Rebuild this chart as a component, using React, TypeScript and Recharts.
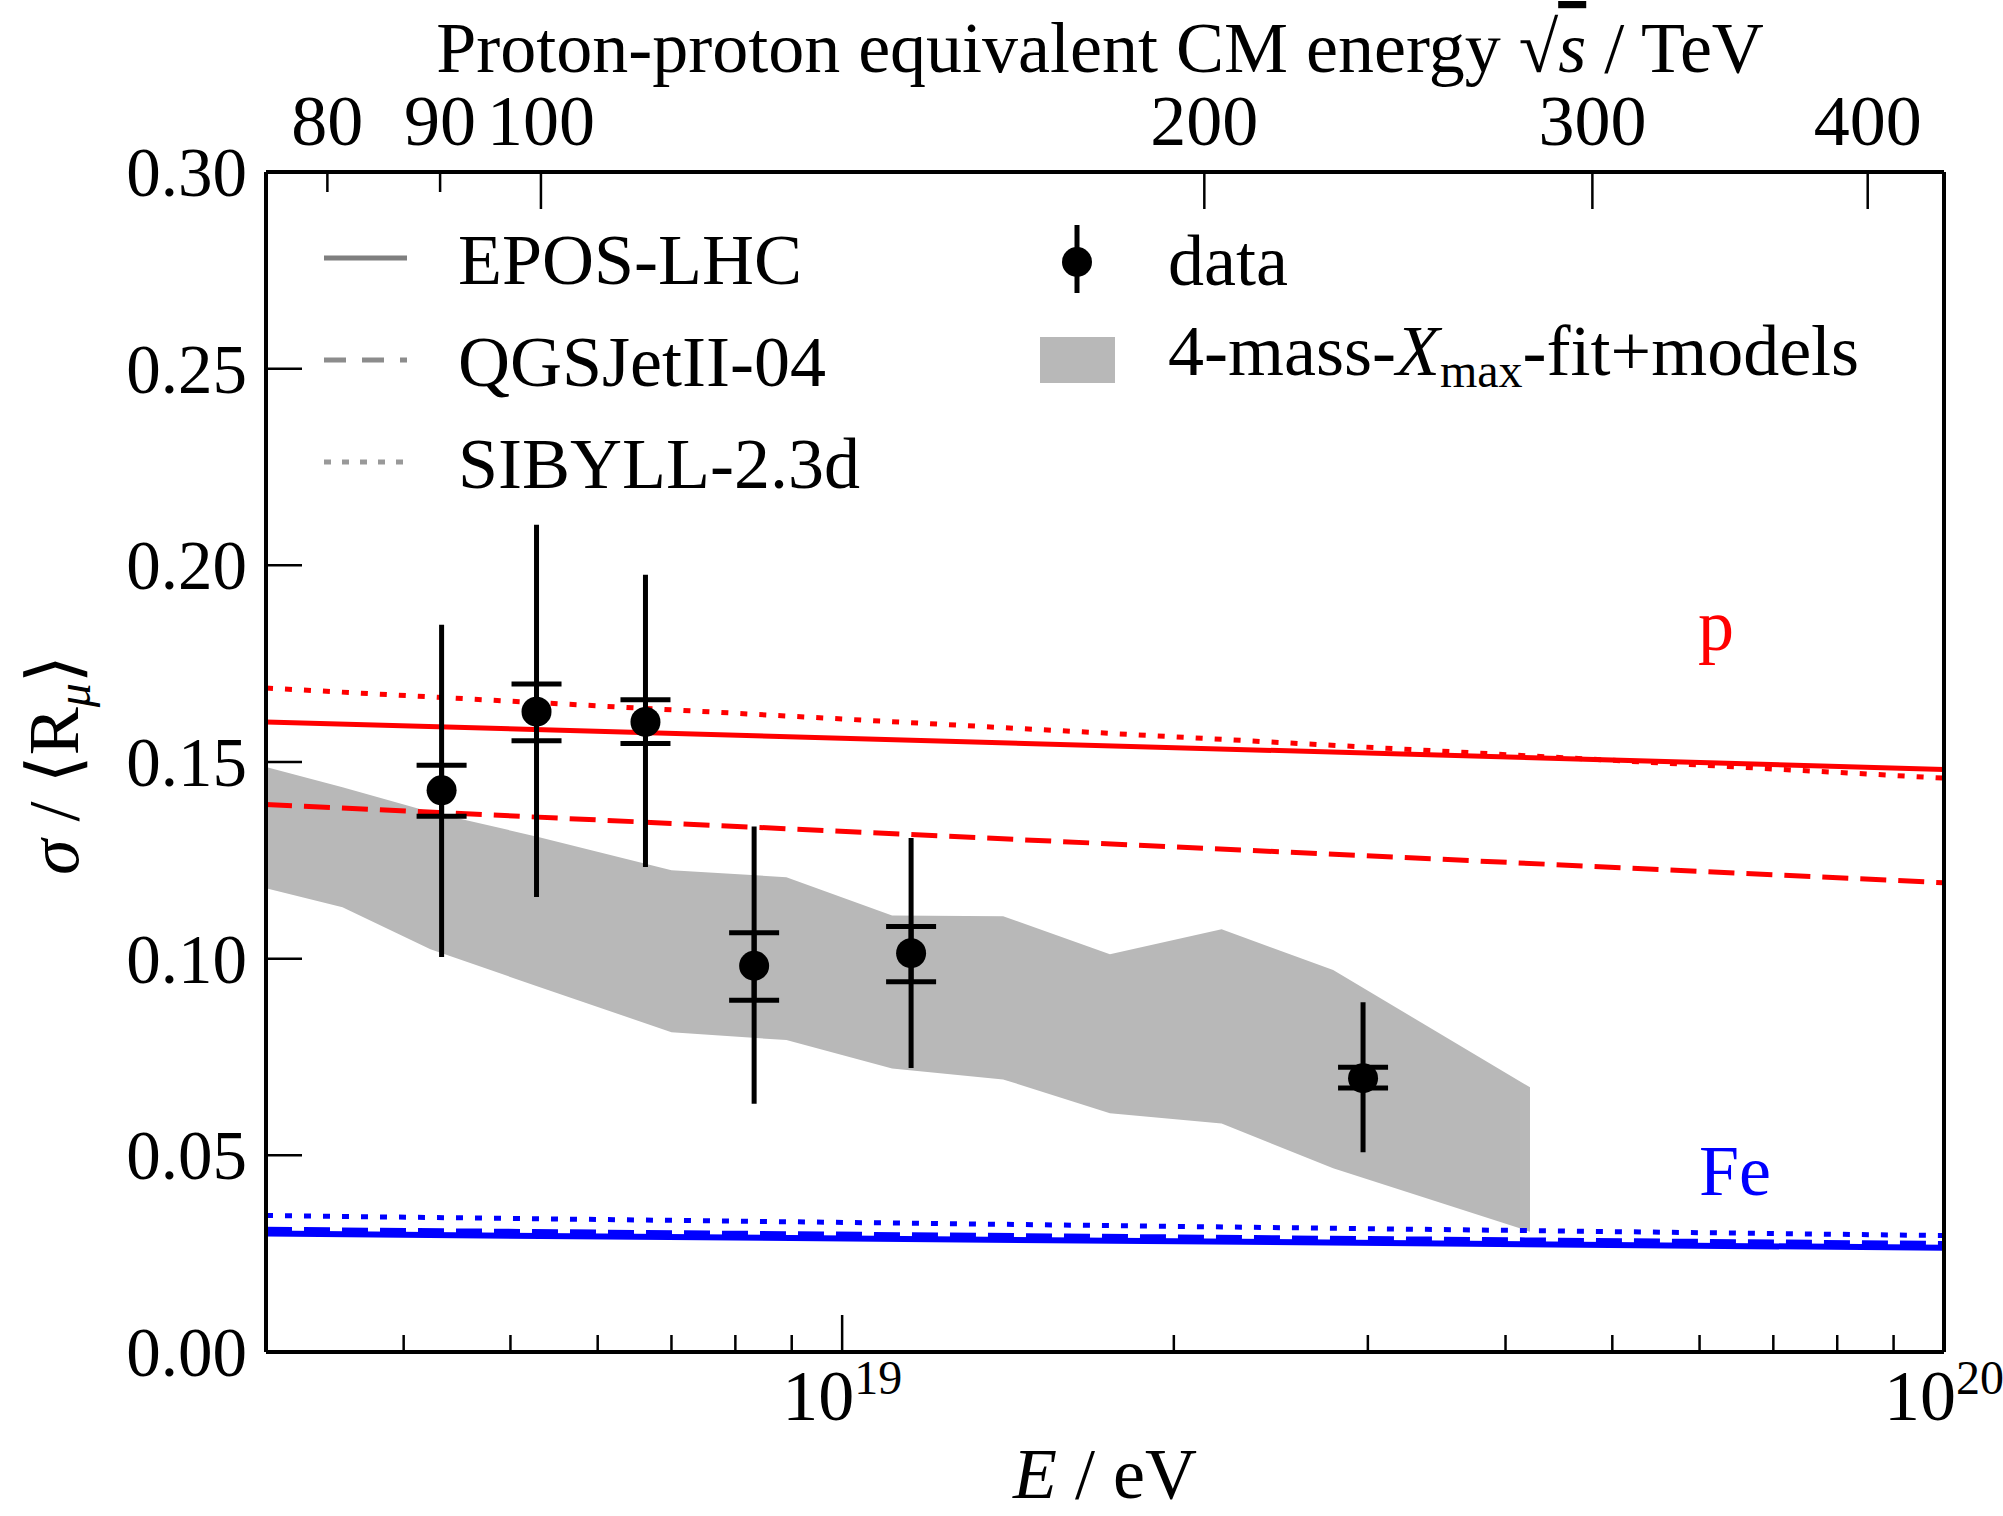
import React from 'react';
import { ComposedChart, Area, Line, Scatter, ErrorBar, XAxis, YAxis } from 'recharts';

const FONT = '"Liberation Serif", "DejaVu Serif", serif';
const FS = 72;
const W = 2003;
const H = 1516;

// shaded band (4-mass-Xmax-fit+models), energies in eV
const bandE = [3.0e18, 3.52e18, 4.23e18, 5.31e18, 7.0e18, 8.9e18, 1.11e19, 1.4e19, 1.75e19, 2.21e19, 2.79e19, 4.21e19];
const bandLow = [0.1179, 0.1131, 0.1024, 0.0928, 0.0813, 0.0793, 0.0721, 0.0693, 0.0607, 0.0581, 0.0467, 0.0306];
const bandHigh = [0.1487, 0.1436, 0.1373, 0.1309, 0.1225, 0.1207, 0.111, 0.1108, 0.1011, 0.1075, 0.0971, 0.0673];

// model predictions, proton and iron
const modelE = [3e18, 1e20];
const pEpos = [0.1602, 0.1481];
const pQgs = [0.1392, 0.1193];
const pSibyll = [0.1688, 0.1459];
const feEpos = [0.0301, 0.0265];
const feQgs = [0.0312, 0.0276];
const feSibyll = [0.0347, 0.0296];

// measurements
const dataE = [4.33e18, 5.28e18, 6.63e18, 8.32e18, 1.155e19, 2.97e19];
const dataY = [0.1428, 0.1628, 0.1602, 0.0982, 0.1014, 0.0696];
const statLo = [0.1362, 0.1554, 0.1547, 0.0894, 0.0941, 0.0671];
const statHi = [0.1492, 0.1698, 0.1658, 0.1066, 0.1082, 0.0724];
const totLo = [0.1004, 0.1157, 0.1233, 0.0631, 0.0722, 0.0508];
const totHi = [0.1849, 0.2103, 0.1976, 0.1336, 0.1307, 0.0889];

// axes
const yTicks = [0, 0.05, 0.1, 0.15, 0.2, 0.25, 0.3];
const xTicks = [4e18, 5e18, 6e18, 7e18, 8e18, 9e18, 1e19, 2e19, 3e19, 4e19, 5e19, 6e19, 7e19, 8e19, 9e19, 1e20];
const xMajor = [1e19, 1e20];
const topTeV = [80, 90, 100, 200, 300, 400];
const topMajor = [100, 200, 300, 400];

// fixed-target equivalent: sqrt(s) = sqrt(2 m_p E)
const MP = 938.272e6;
const teVToE = (t: number) => (t * 1e12) ** 2 / (2 * MP);
const topTicks = topTeV.map(teVToE);

const bandRows = bandE.map((E, i) => ({ E, v: [bandLow[i], bandHigh[i]] }));
const lineRows = (vals: number[]) => modelE.map((E, i) => ({ E, v: vals[i] }));
const pointRows = dataE.map((E, i) => ({
  E,
  v: dataY[i],
  stat: [dataY[i] - statLo[i], statHi[i] - dataY[i]],
  tot: [dataY[i] - totLo[i], totHi[i] - dataY[i]],
}));

const BottomTick = (props: any) => {
  const { x, y, payload } = props;
  const major = xMajor.some((m) => Math.abs(m - payload.value) / m < 1e-6);
  const exp = Math.round(Math.log10(payload.value));
  return (
    <g>
      <line x1={x} x2={x} y1={y} y2={y - (major ? 37 : 17)} stroke="#000" strokeWidth={2.5} />
      {major && (
        <text x={x} y={y + 68} textAnchor="middle" fontFamily={FONT} fontSize={FS} fill="#000">
          10<tspan dy={-26} fontSize={48}>{exp}</tspan>
        </text>
      )}
    </g>
  );
};

const TopTick = (props: any) => {
  const { x, y, index } = props;
  const t = topTeV[index];
  const major = topMajor.includes(t);
  return (
    <g>
      <line x1={x} x2={x} y1={y} y2={y + (major ? 37 : 20)} stroke="#000" strokeWidth={2.5} />
      <text x={x} y={y - 27} textAnchor="middle" fontFamily={FONT} fontSize={FS} fill="#000">
        {t}
      </text>
    </g>
  );
};

const LeftTick = (props: any) => {
  const { x, y, payload } = props;
  return (
    <g>
      <line x1={x} x2={x + 36} y1={y} y2={y} stroke="#000" strokeWidth={2.5} />
      <text x={x - 19} y={y + 24} textAnchor="end" fontFamily={FONT} fontSize={69} fill="#000">
        {Number(payload.value).toFixed(2)}
      </text>
    </g>
  );
};

const Dot = (props: any) => <circle cx={props.cx} cy={props.cy} r={15} fill="#000" />;

export default function App() {
  const axisLine = { stroke: '#000', strokeWidth: 4 };
  return (
    <div style={{ position: 'absolute', left: 0, top: 0, width: W, height: H, background: '#fff' }}>
      <ComposedChart
        width={W}
        height={H}
        data={bandRows}
        margin={{ top: 171, right: 58, bottom: 163, left: 265 }}
      >
        <XAxis
          xAxisId="bottom"
          dataKey="E"
          type="number"
          scale="log"
          domain={[3e18, 1e20]}
          allowDataOverflow
          ticks={xTicks}
          interval={0}
          height={1}
          tickSize={0}
          tickMargin={0}
          tickLine={false}
          axisLine={axisLine}
          tick={BottomTick}
        />
        <XAxis
          xAxisId="top"
          orientation="top"
          dataKey="E"
          type="number"
          scale="log"
          domain={[3e18, 1e20]}
          allowDataOverflow
          ticks={topTicks}
          interval={0}
          height={1}
          tickSize={0}
          tickMargin={0}
          tickLine={false}
          axisLine={axisLine}
          tick={TopTick}
        />
        <YAxis
          yAxisId="left"
          dataKey="v"
          type="number"
          domain={[0, 0.3]}
          allowDataOverflow
          ticks={yTicks}
          interval={0}
          width={1}
          tickSize={0}
          tickMargin={0}
          tickLine={false}
          axisLine={axisLine}
          tick={LeftTick}
        />
        <YAxis
          yAxisId="right"
          orientation="right"
          type="number"
          domain={[0, 0.3]}
          ticks={yTicks}
          width={1}
          tick={false}
          tickLine={false}
          axisLine={axisLine}
        />

        <Area
          xAxisId="bottom"
          yAxisId="left"
          type="linear"
          dataKey="v"
          fill="#b8b8b8"
          fillOpacity={1}
          stroke="none"
          isAnimationActive={false}
        />

        {/* iron */}
        <Line xAxisId="bottom" yAxisId="left" data={lineRows(feSibyll)} dataKey="v" type="linear" stroke="#0000ff" strokeWidth={5} strokeDasharray="7 12" dot={false} isAnimationActive={false} />
        <Line xAxisId="bottom" yAxisId="left" data={lineRows(feQgs)} dataKey="v" type="linear" stroke="#0000ff" strokeWidth={5} strokeDasharray="26 12" dot={false} isAnimationActive={false} />
        <Line xAxisId="bottom" yAxisId="left" data={lineRows(feEpos)} dataKey="v" type="linear" stroke="#0000ff" strokeWidth={6} dot={false} isAnimationActive={false} />

        {/* proton */}
        <Line xAxisId="bottom" yAxisId="left" data={lineRows(pSibyll)} dataKey="v" type="linear" stroke="#ff0000" strokeWidth={5} strokeDasharray="7 12" dot={false} isAnimationActive={false} />
        <Line xAxisId="bottom" yAxisId="left" data={lineRows(pQgs)} dataKey="v" type="linear" stroke="#ff0000" strokeWidth={5} strokeDasharray="26 12" dot={false} isAnimationActive={false} />
        <Line xAxisId="bottom" yAxisId="left" data={lineRows(pEpos)} dataKey="v" type="linear" stroke="#ff0000" strokeWidth={5} dot={false} isAnimationActive={false} />

        <Scatter
          xAxisId="bottom"
          yAxisId="left"
          data={pointRows}
          dataKey="v"
          shape={<Dot />}
          isAnimationActive={false}
        >
          <ErrorBar dataKey="tot" direction="y" width={0} stroke="#000" strokeWidth={5} isAnimationActive={false} />
          <ErrorBar dataKey="stat" direction="y" width={25} stroke="#000" strokeWidth={5} isAnimationActive={false} />
        </Scatter>
      </ComposedChart>

      <svg
        width={W}
        height={H}
        style={{ position: 'absolute', left: 0, top: 0, pointerEvents: 'none' }}
        fontFamily={FONT}
        fontSize={FS}
        fill="#000"
      >
        {/* top axis title */}
        <text x={1100} y={72} textAnchor="middle">
          Proton-proton equivalent CM energy √<tspan fontStyle="italic" style={{ textDecoration: 'overline' }}>s</tspan> / TeV
        </text>

        {/* axis labels */}
        <text x={1105} y={1498} textAnchor="middle">
          <tspan fontStyle="italic">E</tspan> / eV
        </text>
        <text transform="translate(78, 765) rotate(-90)" textAnchor="middle">
          <tspan fontStyle="italic">σ</tspan> / ⟨R<tspan fontStyle="italic" fontSize={48} dy={12}>μ</tspan>
          <tspan dy={-12}>⟩</tspan>
        </text>

        {/* primaries */}
        <text x={1716} y={650} textAnchor="middle" fill="#ff0000">p</text>
        <text x={1699} y={1195} fill="#0000ff">Fe</text>

        {/* legend, models */}
        <line x1={324} x2={407} y1={258} y2={258} stroke="#7f7f7f" strokeWidth={5} />
        <line x1={324} x2={407} y1={360} y2={360} stroke="#8c8c8c" strokeWidth={5} strokeDasharray="22 16" />
        <line x1={324} x2={407} y1={462} y2={462} stroke="#999" strokeWidth={5} strokeDasharray="7 11" />
        <text x={458} y={284}>EPOS-LHC</text>
        <text x={458} y={386}>QGSJetII-04</text>
        <text x={458} y={488}>SIBYLL-2.3d</text>

        {/* legend, data and band */}
        <line x1={1077} x2={1077} y1={225} y2={293} stroke="#000" strokeWidth={5} />
        <circle cx={1077} cy={262} r={15} fill="#000" />
        <text x={1168} y={285}>data</text>
        <rect x={1040} y={337} width={75} height={46} fill="#b8b8b8" />
        <text x={1168} y={375}>
          4-mass-<tspan fontStyle="italic">X</tspan>
          <tspan fontSize={48} dy={12}>max</tspan>
          <tspan dy={-12}>-fit+models</tspan>
        </text>
      </svg>
    </div>
  );
}
